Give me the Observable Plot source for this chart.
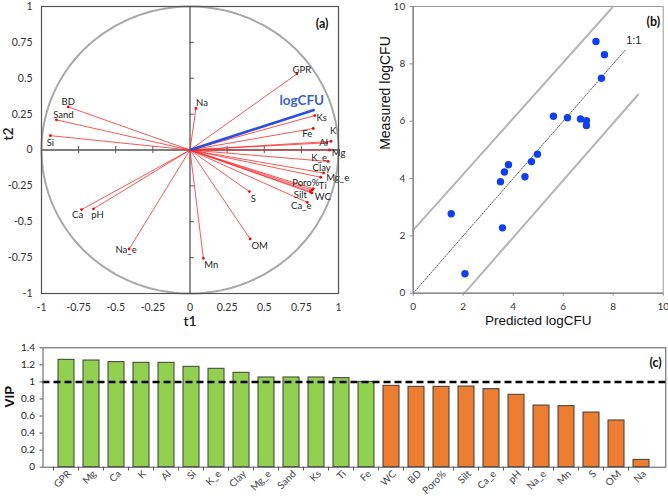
<!DOCTYPE html>
<html><head><meta charset="utf-8">
<script src="https://cdn.jsdelivr.net/npm/d3@7"></script>
<script src="https://cdn.jsdelivr.net/npm/@observablehq/plot@0.6"></script>
<style>
body{margin:0;background:#fff;}
#wrap{position:relative;width:668px;height:501px;overflow:hidden;background:#fff;}
.panel{position:absolute;}
.panel svg{overflow:visible;}
</style></head><body><div id="wrap">
<div class="panel" id="pa" style="left:0;top:0"></div>
<div class="panel" id="pb" style="left:360px;top:0"></div>
<div class="panel" id="pc" style="left:0;top:335px"></div>
</div>
<script>
// ---------- Panel (a): PLS loadings (t1, t2) ----------
const loadingNames = ["GPR","BD","Sand","Si","Na","Ks","Fe","K","Al","Mg","K_e","Clay","Mg_e","Ti","Poro%","WC","Silt","Ca_e","S","OM","Mn","Na_e","Ca","pH"];
const loadingT1 = [0.72,-0.82,-0.90,-0.94,0.04,0.84,0.83,0.95,0.92,0.94,0.93,0.90,0.88,0.83,0.82,0.82,0.81,0.79,0.40,0.405,0.09,-0.41,-0.73,-0.65];
const loadingT2 = [0.53,0.30,0.21,0.10,0.29,0.24,0.15,0.06,0.05,0.00,-0.08,-0.16,-0.19,-0.27,-0.28,-0.30,-0.29,-0.365,-0.29,-0.62,-0.755,-0.69,-0.415,-0.41];
const responseName = "logCFU";
const responseT1 = [0.84];
const responseT2 = [0.28];
const loadingTicks = [-1,-0.75,-0.5,-0.25,0,0.25,0.5,0.75,1];

// ---------- Panel (b): predicted vs measured ----------
const predicted = [1.52,2.07,3.57,3.49,3.65,3.81,4.47,4.73,4.97,5.61,6.17,6.69,6.93,6.93,7.53,7.31,7.65];
const measured  = [2.77,0.68,2.28,3.89,4.23,4.48,4.06,4.59,4.85,6.17,6.12,6.08,6.02,5.85,7.50,8.78,8.32];
const oneToOneX = [0, 8.5], oneToOneY = [0, 8.5];
const upperX = [0, 8.0], upperY = [2.2, 10];
const lowerX = [2.05, 9.0], lowerY = [0, 6.93];
const scatterTicks = [0,2,4,6,8,10];

// ---------- Panel (c): VIP ----------
const vipNames = ["GPR","Mg","Ca","K","Al","Si","K_e","Clay","Mg_e","Sand","Ks","Ti","Fe","WC","BD","Poro%","Silt","Ca_e","pH","Na_e","Mn","S","OM","Na"];
const vipValues = [1.259,1.251,1.232,1.224,1.224,1.177,1.154,1.107,1.052,1.052,1.052,1.044,1.0,0.954,0.942,0.942,0.946,0.915,0.849,0.723,0.716,0.641,0.548,0.086];
const vipTicks = [0,0.2,0.4,0.6,0.8,1,1.2,1.4];
const vipThreshold = [1];

// label offsets (pixels) for panel (a)
const labelShift = {
  GPR:[5,-4], BD:[0,-5], Sand:[7,-5], Si:[0,7], Na:[6,-5], Ks:[7,2], Fe:[-6,5], K:[2,-10],
  Al:[-3,0], Mg:[9,3], K_e:[-9,-4], Clay:[-2,-5.5], Mg_e:[17,0.5], Ti:[9.5,-3], "Poro%":[-6,-7],
  WC:[11,3.5], Silt:[-10,3], Ca_e:[-6,4], S:[4,7], OM:[9.5,6.5], Mn:[8,6.5], Na_e:[-3,1],
  Ca:[-4,5], pH:[4,6]
};

const fontA = "Lato, 'Open Sans', sans-serif";
const loadings = loadingNames.map((n,i) => ({name:n, t1:loadingT1[i], t2:loadingT2[i]}));
const response = [{name:responseName, t1:responseT1[0], t2:responseT2[0]}];
const circle = d3.range(0, 361, 2).map(a => ({cx: Math.cos(a*Math.PI/180), cy: Math.sin(a*Math.PI/180)}));
const innerTicks = loadingTicks.filter(d => d !== 0 && Math.abs(d) !== 1);

const plotA = Plot.plot({
  width: 360, height: 335,
  marginLeft: 41, marginRight: 22, marginTop: 6, marginBottom: 42,
  x: {domain:[-1,1], label:null},
  y: {domain:[-1,1], label:null},
  style: {fontFamily: fontA, fontSize: "10.5px", color: "#333", background: "transparent"},
  marks: [
    Plot.line(circle, {x:"cx", y:"cy", stroke:"#a8a8a8", strokeWidth:2}),
    Plot.ruleX([0], {stroke:"#555", strokeWidth:1.3}),
    Plot.ruleY([0], {stroke:"#555", strokeWidth:1.3}),
    Plot.ruleX(innerTicks, {x:d=>d, y1:-0.025, y2:0.025, stroke:"#555", strokeWidth:1}),
    Plot.ruleY(innerTicks, {y:d=>d, x1:0, x2:0.03, stroke:"#555", strokeWidth:1}),
    Plot.link(loadings, {x1:() => 0, y1:() => 0, x2:"t1", y2:"t2", stroke:"#ff2a2a", strokeWidth:0.8}),
    Plot.dot(loadings, {x:"t1", y:"t2", r:1.4, fill:"#ff0000"}),
    Plot.link(response, {x1:() => 0, y1:() => 0, x2:"t1", y2:"t2", stroke:"#2a4fe0", strokeWidth:2.6}),
    Plot.text(response, {x:"t1", y:"t2", text:"name", dx:-13, dy:-9, fill:"#3a5fd9", fontWeight:"bold", fontSize:13.5, fontFamily:fontA}),
    ...loadings.map(v => Plot.text([v], {x:"t1", y:"t2", text:"name", dx:labelShift[v.name][0], dy:labelShift[v.name][1], fill:"#222", fontSize:9.5, fontFamily:fontA})),
    Plot.frame({stroke:"#555", strokeWidth:1.2}),
    Plot.axisX({ticks: loadingTicks, tickSize:0, tickPadding:10, tickFormat:d=>String(d), label:null, fill:"#333"}),
    Plot.axisY({ticks: loadingTicks, tickSize:0, tickPadding:9, tickFormat:d=>String(d), label:null, fill:"#333"}),
    Plot.text(["t1"], {frameAnchor:"bottom", dy:32, text:d=>d, fontSize:14, fontWeight:600, fill:"#222"}),
    Plot.text(["t2"], {frameAnchor:"left", dx:-33, dy:-9.5, rotate:-90, text:d=>d, fontSize:14, fontWeight:600, fill:"#222"}),
    Plot.text(["(a)"], {frameAnchor:"top-right", dx:-10, dy:12.3, textAnchor:"end", text:d=>d, fontSize:12.5, fontWeight:"bold", fill:"#111"})
  ]
});
document.getElementById("pa").appendChild(plotA);

// ---------- Panel (b) ----------
const fontB = "'Liberation Sans', Arial, sans-serif";
const pts = predicted.map((p,i) => ({p, m: measured[i]}));
const line11 = oneToOneX.map((x,i) => ({x, y: oneToOneY[i]}));
const upper = upperX.map((x,i) => ({x, y: upperY[i]}));
const lower = lowerX.map((x,i) => ({x, y: lowerY[i]}));

const plotB = Plot.plot({
  width: 308, height: 335,
  marginLeft: 52.7, marginRight: 5.3, marginTop: 6, marginBottom: 42.3,
  x: {domain:[0,10], label:null},
  y: {domain:[0,10], label:null},
  style: {fontFamily: fontA, fontSize: "10px", color:"#333", background:"transparent"},
  marks: [
    Plot.frame({stroke:"#9a9a9a", strokeWidth:1}),
    Plot.line(upper, {x:"x", y:"y", stroke:"#b5b5b5", strokeWidth:2}),
    Plot.line(lower, {x:"x", y:"y", stroke:"#b5b5b5", strokeWidth:2}),
    Plot.line(line11, {x:"x", y:"y", stroke:"#333", strokeWidth:0.8, strokeDasharray:"1.5,1.5"}),
    Plot.text([line11[1]], {x:"x", y:"y", text:() => "1:1", dx:0.5, dy:-9, textAnchor:"start", fontSize:11, fontFamily:fontB, fill:"#222"}),
    Plot.dot(pts, {x:"p", y:"m", r:3.7, fill:"#0f3ff0"}),
    Plot.ruleX([0], {stroke:"#8a8a8a", strokeWidth:1.5}),
    Plot.ruleY([0], {stroke:"#8a8a8a", strokeWidth:1.5}),
    Plot.axisX({ticks: scatterTicks, tickSize:3, tickPadding:7, label:null, stroke:"#8a8a8a", fill:"#333"}),
    Plot.axisY({ticks: scatterTicks, tickSize:3, tickPadding:5, label:null, stroke:"#8a8a8a", fill:"#333"}),
    Plot.text(["Predicted logCFU"], {frameAnchor:"bottom", dy:32, text:d=>d, fontSize:13.5, fontFamily:fontB, fill:"#111"}),
    Plot.text(["Measured logCFU"], {frameAnchor:"left", dx:-27.5, rotate:-90, text:d=>d, fontSize:14, fontFamily:fontB, fill:"#111"}),
    Plot.text(["(b)"], {frameAnchor:"top-right", dx:-3, dy:10.7, textAnchor:"end", text:d=>d, fontSize:12.5, fontWeight:"bold", fill:"#111"})
  ]
});
document.getElementById("pb").appendChild(plotB);

// ---------- Panel (c) ----------
const vipData = vipNames.map((n,i) => ({name:n, vip: vipValues[i]}));
const plotC = Plot.plot({
  width: 668, height: 166,
  marginLeft: 42.5, marginRight: 2.7, marginTop: 12.3, marginBottom: 34.3,
  x: {domain: vipNames, paddingInner: 0.36, paddingOuter: 0.18, label:null},
  y: {domain: [0, 1.4], label:null},
  color: {type: "identity"},
  style: {fontFamily: fontA, fontSize: "10px", color:"#333", background:"transparent"},
  marks: [
    Plot.barY(vipData, {x:"name", y:"vip", fill: d => d.vip >= 1 ? "#92d050" : "#ed7d31", stroke:"#3c3c3c", strokeWidth:1}),
    Plot.ruleY(vipThreshold, {stroke:"#000", strokeWidth:2.5, strokeDasharray:"7,4"}),
    Plot.frame({stroke:"#555", strokeWidth:1}),
    Plot.ruleX(vipNames, {x:d=>d, y1:() => 0, y2:() => -0.045, dx:-12.97, stroke:"#555", strokeWidth:1}),
    Plot.axisY({ticks: vipTicks, tickSize:3, tickPadding:5, tickFormat:d=>String(d), label:null, stroke:"#555", fill:"#222"}),
    Plot.axisX({tickSize:0, tickPadding:5, tickRotate:-45, label:null, fill:"#444", dx:3}),
    Plot.text(["VIP"], {frameAnchor:"left", dx:-33.5, rotate:-90, text:d=>d, fontSize:13.5, fontWeight:"bold", fill:"#111", fontFamily:fontB}),
    Plot.text(["(c)"], {frameAnchor:"top-right", dx:-4, dy:10.7, textAnchor:"end", text:d=>d, fontSize:12.5, fontWeight:"bold", fill:"#111"})
  ]
});
document.getElementById("pc").appendChild(plotC);
</script>
</body></html>
